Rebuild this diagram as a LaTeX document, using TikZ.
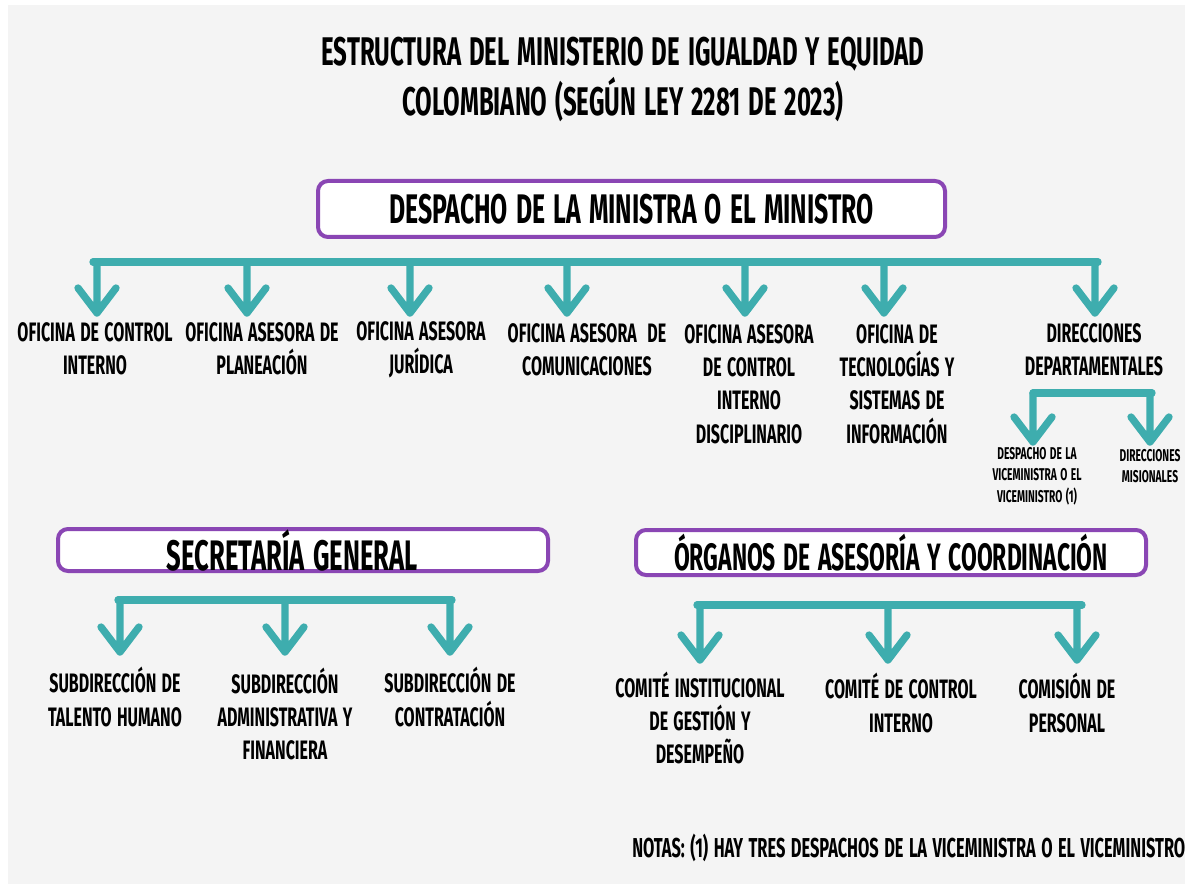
\documentclass[tikz,border=0pt]{standalone}
\usepackage{fontspec}
\newfontfamily\hf{Fira Sans}[FakeStretch=0.6, WordSpace=1.4]
\definecolor{bgc}{HTML}{F4F4F4}
\definecolor{tealc}{HTML}{3EADAE}
\definecolor{purp}{HTML}{8A46B4}
\tikzset{
  conn/.style={draw=tealc, line width=5.5pt, line cap=round, line join=round},
  hbox/.style={draw=purp, line width=3pt, rounded corners=7.5pt, fill=white, inner sep=0pt,
     font=\hf\bfseries\fontsize{31}{34}\selectfont},
  lbl/.style={align=center, inner sep=0pt, font=\hf\bfseries\fontsize{20}{25}\selectfont},
  slbl/.style={align=center, inner sep=0pt, font=\hf\bfseries\fontsize{12.8}{16}\selectfont},
}
\newcommand{\drop}[2]{\draw[conn] (#1) -- (#2) -- ++(-19,-25) (#2) -- ++(19,-25);}
\begin{document}
\begin{tikzpicture}[x=0.75pt,y=-0.75pt]
\useasboundingbox (0,0) rectangle (1185,884);
\fill[white] (0,0) rectangle (1185,884);
\fill[bgc] (8,5) rectangle (1185,884);

% title
\node[align=center, inner sep=0pt, font=\hf\bfseries\fontsize{30}{37.5}\selectfont] (title) at (623,79)
  {ESTRUCTURA DEL MINISTERIO DE IGUALDAD Y EQUIDAD\\COLOMBIANO (SEGÚN LEY 2281 DE 2023)};

% main box
\node[hbox, minimum width=470.25pt, minimum height=42pt] (desp) at (631.5,209) {DESPACHO DE LA MINISTRA O EL MINISTRO};

% main bar
\coordinate (barL) at (93,262);
\coordinate (barR) at (1098,262);
\draw[conn] (barL) -- (barR);
\foreach \i/\x in {1/97,2/247,3/410,4/567,5/745,6/884,7/1095}{
  \coordinate (d\i) at (\x,262);
  \coordinate (t\i) at (\x,313);
  \drop{d\i}{t\i}
}

% first row labels
\node[lbl] (l1) at (95,349) {OFICINA DE CONTROL\\INTERNO};
\node[lbl] (l2) at (262,349) {OFICINA ASESORA DE\\PLANEACIÓN};
\node[lbl] (l3) at (421,350) {OFICINA ASESORA\\JURÍDICA};
\node[lbl] (l4) at (587,350) {OFICINA ASESORA~~DE\\COMUNICACIONES};
\node[lbl] (l5) at (749,384) {OFICINA ASESORA\\DE CONTROL\\INTERNO\\DISCIPLINARIO};
\node[lbl] (l6) at (897,384) {OFICINA DE\\TECNOLOGÍAS Y\\SISTEMAS DE\\INFORMACIÓN};
\node[lbl] (l7) at (1094,350) {DIRECCIONES\\DEPARTAMENTALES};

% sub-branch
\coordinate (sbL) at (1033,393);
\coordinate (sbR) at (1152,393);
\draw[conn] (sbL) -- (sbR);
\coordinate (sbD) at (1150,393);
\coordinate (st1) at (1033,442);
\coordinate (st2) at (1150,442);
\drop{sbL}{st1}
\drop{sbD}{st2}
\node[slbl] (s1) at (1037,476) {DESPACHO DE LA\\VICEMINISTRA O EL\\VICEMINISTRO (1)};
\node[slbl] (s2) at (1150,466) {DIRECCIONES\\MISIONALES};

% secretaria general
\node[hbox, minimum width=367.5pt, minimum height=31.5pt, font=\hf\bfseries\fontsize{32}{34}\selectfont] (sec) at (303,550) {\makebox[340pt]{\hspace{-16pt}SECRETARÍA GENERAL}};
\coordinate (gbL) at (118,600);
\coordinate (gbR) at (452,600);
\draw[conn] (gbL) -- (gbR);
\foreach \i/\x in {1/120,2/285,3/450}{
  \coordinate (gd\i) at (\x,600);
  \coordinate (gt\i) at (\x,652);
  \drop{gd\i}{gt\i}
}
\node[lbl] (g1) at (115,697) {SUBDIRECCIÓN DE\\TALENTO HUMANO};
\node[lbl] (g2) at (285,714) {SUBDIRECCIÓN\\ADMINISTRATIVA Y\\FINANCIERA};
\node[lbl] (g3) at (450,697) {SUBDIRECCIÓN DE\\CONTRATACIÓN};

% organos
\node[hbox, minimum width=382.5pt, minimum height=33.75pt, font=\hf\bfseries\fontsize{28.6}{32}\selectfont] (org) at (891,552.5) {ÓRGANOS DE ASESORÍA Y COORDINACIÓN};
\coordinate (obL) at (697,605);
\coordinate (obR) at (1082,605);
\draw[conn] (obL) -- (obR);
\foreach \i/\x in {1/700,2/888,3/1077}{
  \coordinate (od\i) at (\x,605);
  \coordinate (ot\i) at (\x,660);
  \drop{od\i}{ot\i}
}
\node[lbl] (o1) at (700,718) {COMITÉ INSTITUCIONAL\\DE GESTIÓN Y\\DESEMPEÑO};
\node[lbl] (o2) at (901,703) {COMITÉ DE CONTROL\\INTERNO};
\node[lbl] (o3) at (1067,703) {COMISIÓN DE\\PERSONAL};

% notes
\node[lbl, anchor=west, font=\hf\bfseries\fontsize{20.5}{22}\selectfont] (notes) at (632,848) {NOTAS: (1) HAY TRES DESPACHOS DE LA VICEMINISTRA O EL VICEMINISTRO};
\end{tikzpicture}
\end{document}
